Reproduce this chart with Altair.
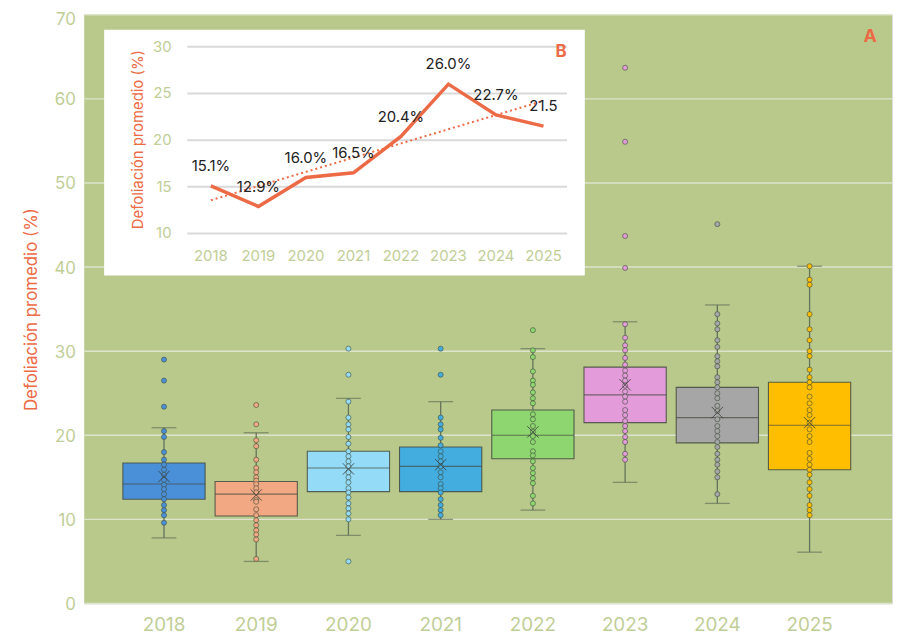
import altair as alt
import pandas as pd

# ---------------- data ----------------
years = ["2018", "2019", "2020", "2021", "2022", "2023", "2024", "2025"]
box_colors = ["#4a90d9", "#f2a882", "#93dbf7", "#43ade0", "#8ed670", "#e39bd9", "#a6a6a6", "#ffbf00"]

q1 = [12.4, 10.4, 13.3, 13.3, 17.2, 21.5, 19.1, 15.9]
median = [14.2, 13.0, 16.1, 16.3, 20.0, 24.8, 22.1, 21.2]
q3 = [16.7, 14.5, 18.1, 18.6, 23.0, 28.1, 25.7, 26.3]
whisker_lo = [7.8, 5.0, 8.1, 10.0, 11.1, 14.4, 11.9, 6.1]
whisker_hi = [20.9, 20.3, 24.4, 24.0, 30.3, 33.5, 35.5, 40.1]
means = [15.1, 12.9, 16.0, 16.5, 20.4, 26.0, 22.7, 21.5]

pts_2018 = [29.0, 26.5, 23.4, 20.5, 19.8, 18.0, 17.1, 16.5, 15.9, 15.3, 14.7, 14.1, 13.6, 13.0,
            12.4, 11.7, 11.1, 10.5, 9.6]
pts_2019 = [23.6, 21.3, 19.4, 18.7, 17.1, 16.1, 15.6, 15.0, 14.6, 14.2, 13.7, 13.2, 12.3, 12.1,
            11.2, 10.5, 9.9, 9.3, 8.7, 8.2, 7.6, 5.3]
pts_2020 = [30.3, 27.2, 24.0, 22.1, 21.3, 20.7, 19.8, 19.0, 18.1, 17.5, 16.9, 16.3, 15.6, 15.0,
            14.4, 13.7, 13.2, 12.6, 11.9, 11.3, 10.7, 10.0, 5.0]
pts_2021 = [30.3, 27.2, 22.1, 21.3, 20.7, 19.7, 18.8, 18.1, 17.5, 16.9, 16.3, 15.6, 15.0, 14.2,
            13.7, 13.2, 12.4, 11.7, 11.1, 10.5]
pts_2022 = [32.5, 30.1, 29.3, 27.6, 26.5, 26.0, 25.1, 24.4, 23.8, 22.5, 21.9, 21.1, 20.4, 19.9,
            19.2, 18.1, 17.6, 16.9, 16.1, 15.5, 14.9, 14.3, 12.8, 11.9]
pts_2023 = [63.7, 54.9, 43.7, 39.9, 33.2, 31.6, 30.7, 30.1, 29.2, 28.4, 27.7, 27.1, 26.5, 25.9,
            25.2, 24.6, 24.0, 23.0, 22.4, 21.7, 21.1, 20.5, 19.8, 19.2, 17.8, 17.1]
pts_2024 = [45.1, 34.4, 33.3, 32.6, 31.3, 30.5, 29.4, 28.8, 28.2, 26.9, 26.3, 25.7, 25.0, 24.4,
            23.5, 22.9, 21.9, 21.1, 20.5, 19.9, 19.2, 18.6, 17.8, 17.1, 16.5, 15.7, 15.0, 13.0]
pts_2025 = [40.1, 38.5, 37.9, 34.4, 32.6, 31.3, 30.0, 29.4, 27.8, 26.9, 26.3, 25.7, 24.6, 23.8,
            23.0, 22.4, 21.5, 20.7, 19.9, 19.2, 17.9, 17.2, 16.5, 15.9, 15.3, 14.4, 13.6, 12.8,
            11.7, 11.1, 10.5]
all_points = [pts_2018, pts_2019, pts_2020, pts_2021, pts_2022, pts_2023, pts_2024, pts_2025]

# inset (B)
inset_years = [2018, 2019, 2020, 2021, 2022, 2023, 2024, 2025]
inset_values = [15.1, 12.9, 16.0, 16.5, 20.4, 26.0, 22.7, 21.5]
inset_labels = ["15.1%", "12.9%", "16.0%", "16.5%", "20.4%", "26.0%", "22.7%", "21.5"]
inset_ticks = [10, 15, 20, 25, 30]
main_ticks = [0, 10, 20, 30, 40, 50, 60, 70]

# ---------------- tables ----------------
box_df = pd.DataFrame({"year": years, "q1": q1, "median": median, "q3": q3,
                       "lo": whisker_lo, "hi": whisker_hi, "mean": means})
pts_df = pd.DataFrame([{"year": y, "v": v} for y, pts in zip(years, all_points) for v in pts])
inset_df = pd.DataFrame({"year": inset_years, "value": inset_values, "label": inset_labels,
                         "ylabel": [str(y) for y in inset_years]})
inset_tick_df = pd.DataFrame({"t": inset_ticks})
main_tick_df = pd.DataFrame({"t": main_ticks})
one = pd.DataFrame({"a": [0]})

# ---------------- styles ----------------
FONT = "Inter"
ORANGE = "#ec6a45"
LABEL_GREEN = "#bfce97"
WHISKER = "#66735c"
EDGE = "#444a40"
PLOT_BG = "#b8c98b"
W, H = 815, 594

color_scale = alt.Scale(domain=years, range=box_colors)
x_main = alt.X("year:N", sort=years,
               scale=alt.Scale(paddingInner=0, paddingOuter=0.379, align=0.48),
               axis=alt.Axis(title=None, labelAngle=0, labelFontSize=19, labelColor=LABEL_GREEN,
                             labelPadding=12, domain=False, ticks=False, grid=False,
                             labelFont=FONT))
y_scale_main = alt.Scale(domain=[0, 70], nice=False)
y_main = alt.Y("t:Q", scale=y_scale_main,
               axis=alt.Axis(title="Defoliación promedio (%)", titleColor=ORANGE, titleFontSize=17,
                             titleFontWeight="normal", titlePadding=14, values=main_ticks,
                             labelFontSize=17, labelColor=LABEL_GREEN, labelPadding=9,
                             labelOffset={"condition": {"test": "datum.value == 70", "value": 5},
                                          "value": 1},
                             domain=False, ticks=False, grid=False,
                             titleFont=FONT, labelFont=FONT))

plot_bg = alt.Chart(one).mark_rect(fill=PLOT_BG).encode(
    x=alt.value(0), x2=alt.value(W), y=alt.value(0), y2=alt.value(H))
grid = alt.Chart(main_tick_df).mark_rule(color="#dde3cc", strokeWidth=1.5).encode(
    y=y_main, x=alt.value(0), x2=alt.value(W))

base_box = alt.Chart(box_df)
whiskers = base_box.mark_rule(color=WHISKER, strokeWidth=1.3).encode(
    x=x_main, y=alt.Y("lo:Q", scale=y_scale_main), y2="hi:Q")
caps_lo = base_box.mark_tick(color=WHISKER, size=25, thickness=1.3).encode(
    x=x_main, y=alt.Y("lo:Q", scale=y_scale_main))
caps_hi = base_box.mark_tick(color=WHISKER, size=25, thickness=1.3).encode(
    x=x_main, y=alt.Y("hi:Q", scale=y_scale_main))
boxes = base_box.mark_bar(size=83, stroke=EDGE, strokeWidth=1.1, strokeOpacity=0.85).encode(
    x=x_main, y=alt.Y("q1:Q", scale=y_scale_main), y2="q3:Q",
    fill=alt.Fill("year:N", scale=color_scale, legend=None))
medians = base_box.mark_tick(color=EDGE, size=83, thickness=1.1, opacity=0.7).encode(
    x=x_main, y=alt.Y("median:Q", scale=y_scale_main))
points = alt.Chart(pts_df).mark_point(filled=True, size=26, stroke="#3e4a3a",
                                      strokeWidth=0.8, strokeOpacity=0.75, opacity=1).encode(
    x=x_main, y=alt.Y("v:Q", scale=y_scale_main),
    fill=alt.Fill("year:N", scale=color_scale, legend=None))
mean_marks = base_box.mark_point(shape="M-1,-1L1,1M1,-1L-1,1", size=130, filled=False,
                                 stroke="#3a3a3a", strokeWidth=1, opacity=0.8).encode(
    x=x_main, y=alt.Y("mean:Q", scale=y_scale_main))
label_a = alt.Chart(one).mark_text(text="A", color=ORANGE, fontSize=18, fontWeight="bold",
                                   font=FONT).encode(x=alt.value(793), y=alt.value(22))

main = alt.layer(plot_bg, grid, whiskers, caps_lo, caps_hi, boxes, medians, points,
                 mean_marks, label_a)

# ---------------- inset ----------------
ix = alt.Scale(domain=[2018, 2025], range=[127.7, 463.3], nice=False, zero=False)
iy = alt.Scale(domain=[10, 30], range=[220.7, 32.3], nice=False, zero=False)

inset_bg = alt.Chart(one).mark_rect(fill="white").encode(
    x=alt.value(20), x2=alt.value(505), y=alt.value(15), y2=alt.value(263))
inset_grid = alt.Chart(inset_tick_df).mark_rule(color="#d9d9d9", strokeWidth=2).encode(
    y=alt.Y("t:Q", scale=iy, axis=None), x=alt.value(104), x2=alt.value(487))
inset_ylabels = alt.Chart(inset_tick_df).mark_text(
    align="right", baseline="middle", fontSize=15, color=LABEL_GREEN, font=FONT).encode(
    y=alt.Y("t:Q", scale=iy, axis=None), x=alt.value(88), text="t:Q")
inset_xlabels = alt.Chart(inset_df).mark_text(
    align="center", baseline="middle", fontSize=15, color=LABEL_GREEN, font=FONT).encode(
    x=alt.X("year:Q", scale=ix, axis=None), y=alt.value(243), text="ylabel:N")
inset_line = alt.Chart(inset_df).mark_line(color=ORANGE, strokeWidth=3.5).encode(
    x=alt.X("year:Q", scale=ix, axis=None), y=alt.Y("value:Q", scale=iy, axis=None))
inset_trend = alt.Chart(inset_df).transform_regression("year", "value").mark_line(
    color=ORANGE, strokeWidth=2, strokeDash=[2, 3]).encode(
    x=alt.X("year:Q", scale=ix, axis=None), y=alt.Y("value:Q", scale=iy, axis=None))
inset_vlabels = alt.Chart(inset_df).mark_text(
    align="center", baseline="middle", dy=-20, fontSize=15, color="#222222", font=FONT).encode(
    x=alt.X("year:Q", scale=ix, axis=None), y=alt.Y("value:Q", scale=iy, axis=None),
    text="label:N")
inset_title = alt.Chart(one).mark_text(
    text="Defoliación promedio (%)", angle=270, fontSize=15, color=ORANGE, font=FONT,
    align="center", baseline="middle").encode(x=alt.value(54), y=alt.value(126))
label_b = alt.Chart(one).mark_text(text="B", color=ORANGE, fontSize=17, fontWeight="bold",
                                   font=FONT).encode(x=alt.value(481), y=alt.value(38))

inset = alt.layer(inset_bg, inset_grid, inset_ylabels, inset_xlabels, inset_line, inset_trend,
                  inset_vlabels, inset_title, label_b)

chart = alt.layer(main, inset).resolve_scale(
    x="independent", y="independent", fill="shared"
).properties(
    width=W, height=H,
    autosize=alt.AutoSizeParams(type="none"),
    padding={"left": 77, "top": 4, "right": 4, "bottom": 33},
).configure_view(stroke=None).configure(font=FONT)

chart.save("out.html", embed_options={"renderer": "svg", "actions": False})
